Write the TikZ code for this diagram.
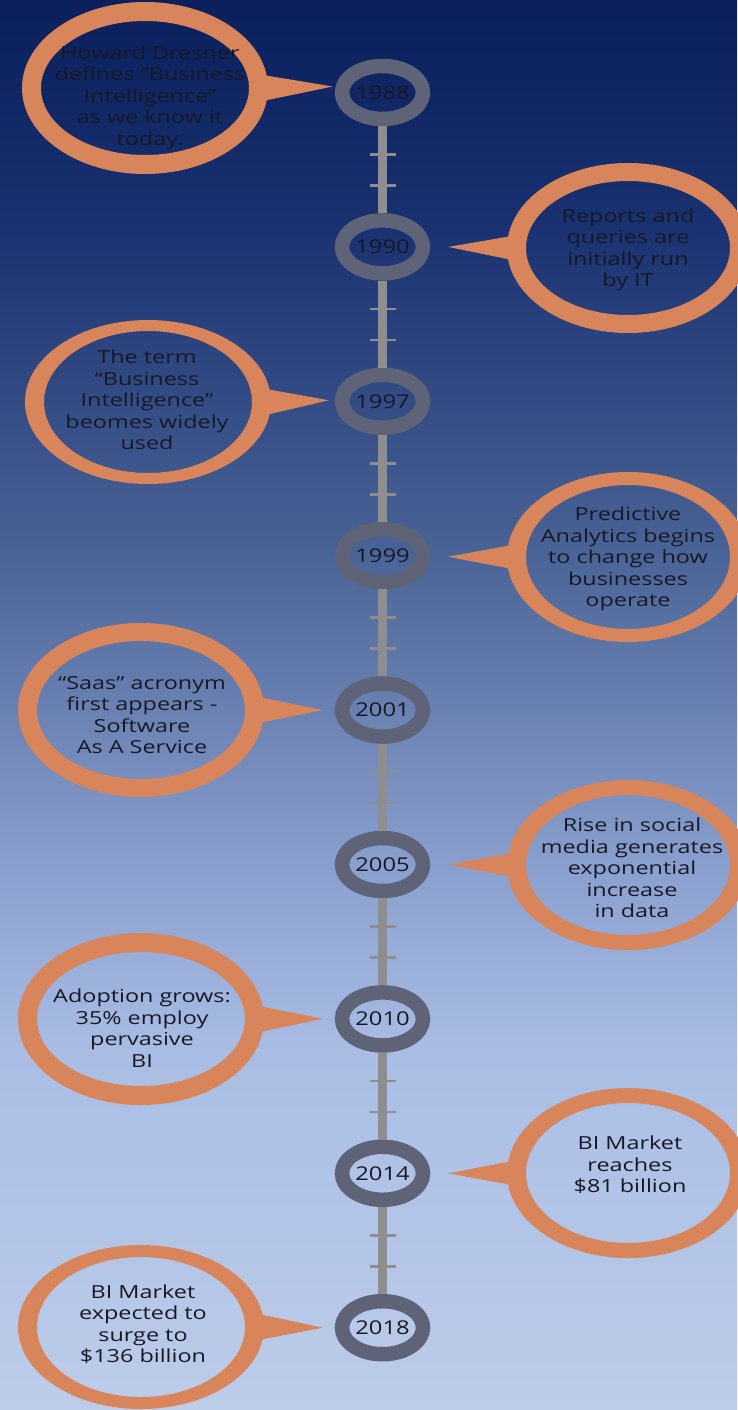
\documentclass[tikz,border=0pt]{standalone}
\usepackage{fontspec}
\usetikzlibrary{shapes.geometric,calc}
\newfontfamily\bubblefont[FakeStretch=1.3]{Open Sans}
\newfontfamily\yearfont[FakeStretch=1.25]{Open Sans}
\definecolor{bubbleorange}{RGB}{217,133,91}
\definecolor{ringgray}{RGB}{95,99,120}
\definecolor{spinegray}{RGB}{142,142,142}
\definecolor{inkdark}{RGB}{22,24,36}
\definecolor{bgA}{RGB}{10,31,92}
\definecolor{bgB}{RGB}{26,50,113}
\definecolor{bgC}{RGB}{74,99,150}
\definecolor{bgD}{RGB}{136,158,205}
\definecolor{bgE}{RGB}{170,190,229}
\definecolor{bgF}{RGB}{188,204,233}
\begin{document}
\begin{tikzpicture}[x=1pt,y=-1pt,
  ring/.style={ellipse, draw=ringgray, line width=14.5pt, minimum width=81pt,
    minimum height=53pt, inner sep=0pt, text=inkdark,
    font=\yearfont\fontsize{19}{19}\selectfont},
  note/.style={align=center, text=inkdark, inner sep=0pt,
    font=\bubblefont\fontsize{18}{21.5}\selectfont},
  spine/.style={draw=spinegray, line width=9pt},
  tickmark/.style={draw=spinegray, line width=2.5pt},
  balloon/.style={fill=bubbleorange, even odd rule},
  tail/.style={fill=bubbleorange}]

% background gradient, in bands
\useasboundingbox (0,0) rectangle (737,1410);
\shade[top color=bgA, bottom color=bgB] (0,0) rectangle (737,230.5);
\shade[top color=bgB, bottom color=bgC] (0,230) rectangle (737,550.5);
\shade[top color=bgC, bottom color=bgD] (0,550) rectangle (737,860.5);
\shade[top color=bgD, bottom color=bgE] (0,860) rectangle (737,1060.5);
\shade[top color=bgE, bottom color=bgF] (0,1060) rectangle (737,1410);

% year rings
\node[ring] (r1) at (382.5,92.5)  {1988};
\node[ring] (r2) at (382.5,246.9) {1990};
\node[ring] (r3) at (382.5,401.3) {1997};
\node[ring] (r4) at (382.5,555.7) {1999};
\node[ring] (r5) at (382.5,710.1) {2001};
\node[ring] (r6) at (382.5,864.5) {2005};
\node[ring] (r7) at (382.5,1018.9) {2010};
\node[ring] (r8) at (382.5,1173.3) {2014};
\node[ring] (r9) at (382.5,1327.7) {2018};

% spine with two ticks between neighbouring rings
\foreach \a/\b in {1/2,2/3,3/4,4/5,5/6,6/7,7/8,8/9} {
  \draw[spine] (r\a.south) -- (r\b.north);
  \draw[tickmark] ($(r\a.center)+(-13,62)$) -- ++(26,0);
  \draw[tickmark] ($(r\a.center)+(-13,93)$) -- ++(26,0);
}

% speech balloons: centres
\coordinate (b1) at (145,88);
\coordinate (b2) at (628,248);
\coordinate (b3) at (148,402);
\coordinate (b4) at (628,557);
\coordinate (b5) at (141,710);
\coordinate (b6) at (628,865);
\coordinate (b7) at (141,1019);
\coordinate (b8) at (628,1173);
\coordinate (b9) at (141,1327);

% tail tips beside the rings
\coordinate (p1) at ($(r1.west)+(-2,-6)$);
\coordinate (p2) at ($(r2.east)+(18,0)$);
\coordinate (p3) at ($(r3.west)+(-6,-1)$);
\coordinate (p4) at ($(r4.east)+(18,1)$);
\coordinate (p5) at ($(r5.west)+(-12,0)$);
\coordinate (p6) at ($(r6.east)+(18,0)$);
\coordinate (p7) at ($(r7.west)+(-12,0)$);
\coordinate (p8) at ($(r8.east)+(18,0)$);
\coordinate (p9) at ($(r9.west)+(-12,0)$);

% left balloons
\foreach \i/\ry/\iry in {1/86/67,3/82/71,5/87/69,7/86/67,9/82/70} {
  \fill[balloon] (b\i) ellipse [x radius=123pt, y radius=\ry pt]
                 (b\i) ellipse [x radius=104pt, y radius=\iry pt];
  \fill[tail] ($(b\i)+(118,-13)$) -- (p\i) -- ($(b\i)+(118,13)$) -- cycle;
}
% right balloons
\foreach \i/\ry/\iry in {2/85/67,4/85/72,6/85/70,8/85/70} {
  \fill[balloon] (b\i) ellipse [x radius=121pt, y radius=\ry pt]
                 (b\i) ellipse [x radius=102pt, y radius=\iry pt];
  \fill[tail] ($(b\i)+(-116,-12)$) -- (p\i) -- ($(b\i)+(-116,12)$) -- cycle;
}

% balloon texts
\node[note] (t1) at (150,97.5) {Howard Dresner\\defines “Business\\Intelligence”\\as we know it\\today.};
\node[note] (t2) at (628,250) {Reports and\\queries are\\initially run\\by IT};
\node[note] (t3) at (147,400) {The term\\“Business\\Intelligence”\\beomes widely\\used};
\node[note] (t4) at (628,559) {Predictive\\Analytics begins\\to change how\\businesses\\operate};
\node[note] (t5) at (142,715) {“Saas” acronym\\first appears -\\Software\\As A Service};
\node[note] (t6) at (632,868) {Rise in social\\media generates\\exponential\\increase\\in data};
\node[note] (t7) at (142,1028) {Adoption grows:\\35\% employ\\pervasive\\BI};
\node[note] (t8) at (630,1165) {BI Market\\reaches\\\$81 billion};
\node[note] (t9) at (143,1324) {BI Market\\expected to\\surge to\\\$136 billion};
\end{tikzpicture}
\end{document}
